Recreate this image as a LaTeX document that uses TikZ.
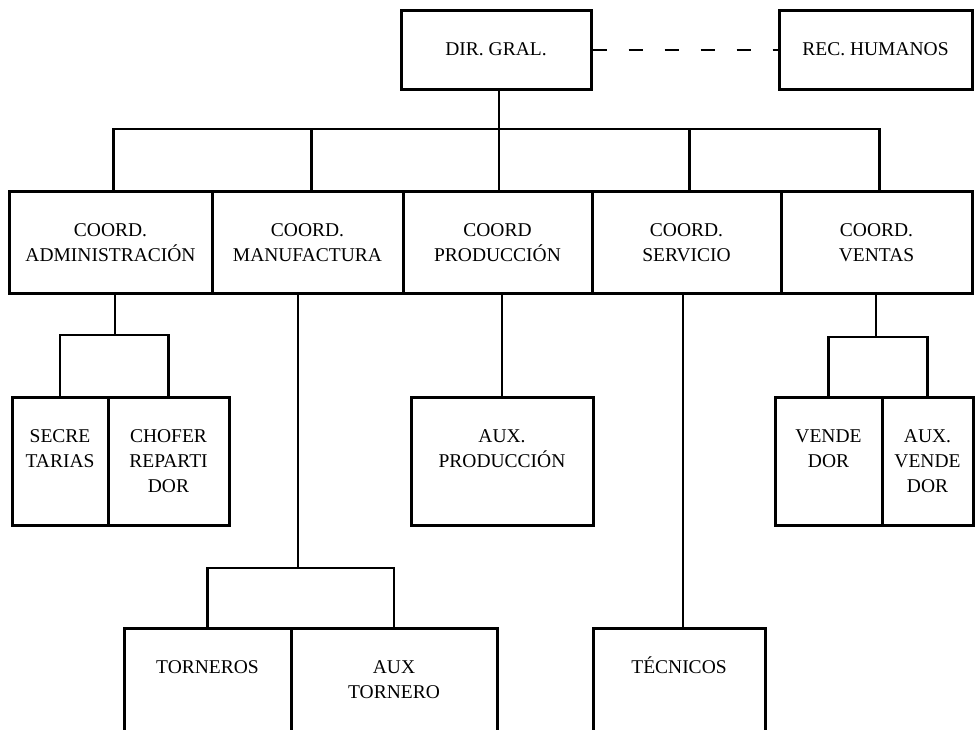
\documentclass[tikz,border=0pt]{standalone}
\usepackage{fontspec}
\setmainfont{Liberation Serif}
\begin{document}
\begin{tikzpicture}[x=1pt,y=-1pt,
  box/.style={draw, line width=3pt, inner sep=0pt, rectangle},
  lbl/.style={anchor=north, inner sep=0pt, align=center, font=\fontsize{19.5}{25}\selectfont},
  conn/.style={line width=2.2pt},
  dashconn/.style={line width=2pt, dash pattern=on 14pt off 22pt}
]
\clip (0,0) rectangle (977,729);
\fill[white] (0,0) rectangle (977,729);
% boxes
\node[box, minimum width=190pt, minimum height=79pt] (dir) at (496,49.5) {};
\node[box, minimum width=193pt, minimum height=79pt] (rec) at (875.5,49.5) {};
\node[box, minimum width=203pt, minimum height=102pt] (adm) at (110.5,242) {};
\node[box, minimum width=191pt, minimum height=102pt] (man) at (307.5,242) {};
\node[box, minimum width=189pt, minimum height=102pt] (pro) at (497.5,242) {};
\node[box, minimum width=189pt, minimum height=102pt] (ser) at (686.5,242) {};
\node[box, minimum width=191pt, minimum height=102pt] (ven) at (876.5,242) {};
\node[box, minimum width=96pt, minimum height=128pt] (sec) at (60,461) {};
\node[box, minimum width=121pt, minimum height=128pt] (cho) at (168.5,461) {};
\node[box, minimum width=182pt, minimum height=128pt] (aux) at (502,461) {};
\node[box, minimum width=107pt, minimum height=128pt] (vnd) at (828.5,461) {};
\node[box, minimum width=91pt, minimum height=128pt] (avd) at (927.5,461) {};
\node[box, minimum width=167pt, minimum height=132pt] (tor) at (207.5,694) {};
\node[box, minimum width=206pt, minimum height=132pt] (atr) at (394,694) {};
\node[box, minimum width=172pt, minimum height=132pt] (tec) at (679,694) {};
% labels
\node[lbl] (dirT) at ([yshift=-29pt]dir.north) {\strut DIR. GRAL.};
\node[lbl] (recT) at ([yshift=-29pt]rec.north) {\strut REC. HUMANOS};
\node[lbl] (admT) at ([yshift=-29pt]adm.north) {\strut COORD.\\ADMINISTRACIÓN};
\node[lbl] (manT) at ([yshift=-29pt]man.north) {\strut COORD.\\MANUFACTURA};
\node[lbl] (proT) at ([yshift=-29pt]pro.north) {\strut COORD\\PRODUCCIÓN};
\node[lbl] (serT) at ([yshift=-29pt]ser.north) {\strut COORD.\\SERVICIO};
\node[lbl] (venT) at ([yshift=-29pt]ven.north) {\strut COORD.\\VENTAS};
\node[lbl] (secT) at ([yshift=-29pt]sec.north) {\strut SECRE\\TARIAS};
\node[lbl] (choT) at ([yshift=-29pt]cho.north) {\strut CHOFER\\REPARTI\\DOR};
\node[lbl] (auxT) at ([yshift=-29pt]aux.north) {\strut AUX.\\PRODUCCIÓN};
\node[lbl] (vndT) at ([yshift=-29pt]vnd.north) {\strut VENDE\\DOR};
\node[lbl] (avdT) at ([yshift=-29pt]avd.north) {\strut AUX.\\VENDE\\DOR};
\node[lbl] (torT) at ([yshift=-29pt]tor.north) {\strut TORNEROS};
\node[lbl] (atrT) at ([yshift=-29pt]atr.north) {\strut AUX\\TORNERO};
\node[lbl] (tecT) at ([yshift=-29pt]tec.north) {\strut TÉCNICOS};
% connectors
\draw[dashconn] (dir.east) -- (rec.west);
\coordinate (b1) at (499,129);
\draw[conn] (dir.south -| b1) -- (b1);
\draw[conn] ([xshift=3pt]adm.north) |- (b1) -| ([xshift=3pt]ven.north);
\draw[conn] ([xshift=4pt]man.north) -- ([xshift=4pt]man.north |- b1);
\draw[conn] (pro.north -| b1) -- (b1);
\draw[conn] ([xshift=3pt]ser.north) -- ([xshift=3pt]ser.north |- b1);
% second level
\coordinate (b2) at (115,335);
\draw[conn] (adm.south -| b2) -- (b2);
\draw[conn] (sec.north) |- (b2) -| (cho.north);
\coordinate (b3) at (298,568);
\draw[conn] (man.south -| b3) -- (b3);
\draw[conn] (tor.north) |- (b3) -| (atr.north);
\draw[conn] (aux.north |- pro.south) -- (aux.north);
\draw[conn] ([xshift=4pt]tec.north |- ser.south) -- ([xshift=4pt]tec.north);
\coordinate (b5) at (876,337);
\draw[conn] (ven.south -| b5) -- (b5);
\draw[conn] (vnd.north) |- (b5) -| (avd.north);
\end{tikzpicture}
\end{document}
